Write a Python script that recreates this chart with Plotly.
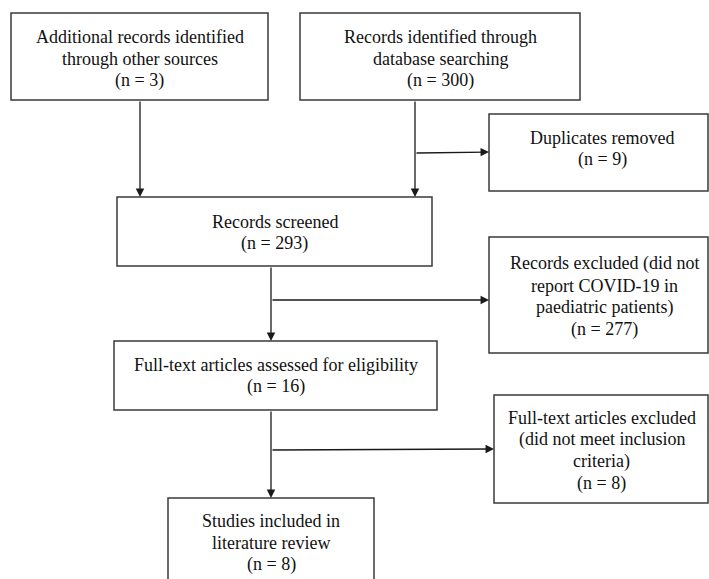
import plotly.graph_objects as go

# ---- data ----
stage_labels = [
    "Additional records identified<br>through other sources",
    "Records identified through<br>database searching",
    "Duplicates removed",
    "Records screened",
    "Records excluded (did not<br>report COVID-19 in<br>paediatric patients)",
    "Full-text articles assessed for eligibility",
    "Full-text articles excluded<br>(did not meet inclusion<br>criteria)",
    "Studies included in<br>literature review",
]
stage_counts = [3, 300, 9, 293, 277, 16, 8, 8]

# ---- layout (pixel geometry) ----
boxes = [  # x0, y0, x1, y1
    (11, 13, 268, 100),
    (300, 13, 580, 100),
    (489, 114, 708, 191),
    (117, 197, 432, 266),
    (489, 237, 708, 353),
    (114, 341, 437, 410),
    (494, 395, 708, 503),
    (168, 498, 374, 600),
]
text_centers = [  # x, y
    (139.5, 58.5), (440, 58.5), (602, 148.5), (274.5, 233),
    (604, 296.5), (275.5, 375.5), (601.5, 450.5), (271, 542.5),
]
line_step = 21.7
arrows = [  # tail x, tail y, tip x, tip y
    (140, 100, 140, 197),
    (415, 100, 415, 197),
    (415, 153, 489, 152),
    (271, 266, 271, 341),
    (271, 300, 489, 300),
    (271, 410, 271, 498),
    (271, 450, 494, 449),
]

W, H = 709, 579
fig = go.Figure()
fig.add_trace(go.Scatter(x=[0, W], y=[0, H], mode="markers",
                         marker=dict(opacity=0), hoverinfo="skip", showlegend=False))

for (x0, y0, x1, y1) in boxes:
    fig.add_shape(type="rect", x0=x0, y0=y0, x1=x1, y1=y1, xref="x", yref="y",
                  line=dict(color="#3a3a3a", width=1.5), fillcolor="rgba(0,0,0,0)")

for lab, n, (cx, cy) in zip(stage_labels, stage_counts, text_centers):
    lines = lab.split("<br>") + [f"(n = {n})"]
    k = len(lines)
    for i, ln in enumerate(lines):
        yy = cy + (i - (k - 1) / 2) * line_step
        fig.add_annotation(x=cx, y=yy, xref="x", yref="y", showarrow=False,
                           text=ln, align="center",
                           font=dict(family="Liberation Serif", size=18, color="#111111"))

for (tx, ty, hx, hy) in arrows:
    fig.add_annotation(x=hx, y=hy, ax=tx, ay=ty, xref="x", yref="y",
                       axref="x", ayref="y", text="", showarrow=True,
                       arrowhead=2, arrowsize=1.3, arrowwidth=1.3,
                       arrowcolor="#1a1a1a", standoff=0)

fig.update_xaxes(range=[0, W], visible=False, fixedrange=True)
fig.update_yaxes(range=[H, 0], visible=False, fixedrange=True)
fig.update_layout(width=W, height=H, margin=dict(l=0, r=0, t=0, b=0),
                  paper_bgcolor="white", plot_bgcolor="white", showlegend=False)

fig.write_html("out.html", config={"displayModeBar": False},
               post_script="document.body.style.margin='0';")
